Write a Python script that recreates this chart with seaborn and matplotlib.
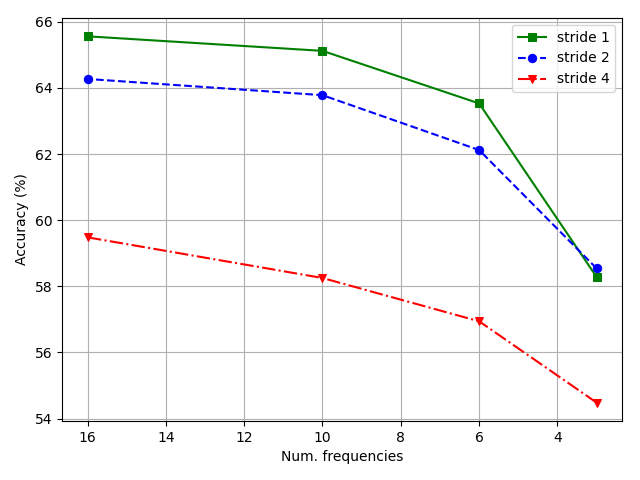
import matplotlib
matplotlib.use("Agg")
import matplotlib.pyplot as plt
import seaborn as sns
import pandas as pd

# values
num_freqs = [16, 10, 6, 3]
stride1 = [65.56, 65.12, 63.53, 58.28]
stride2 = [64.27, 63.78, 62.12, 58.54]
stride4 = [59.48, 58.25, 56.94, 54.48]

series = [
    ("stride 1", stride1, "green", "s", "-"),
    ("stride 2", stride2, "blue", "o", "--"),
    ("stride 4", stride4, "red", "v", "-."),
]

fig, ax = plt.subplots(figsize=(6.4, 4.8), dpi=100)
for label, vals, color, marker, ls in series:
    df = pd.DataFrame({"freq": num_freqs, "acc": vals})
    sns.lineplot(data=df, x="freq", y="acc", ax=ax, color=color, marker=marker,
                 linestyle=ls, label=label, markersize=6, markeredgecolor=color,
                 linewidth=1.5)

ax.invert_xaxis()
ax.set_xticks([16, 14, 12, 10, 8, 6, 4])
ax.set_xlabel("Num. frequencies")
ax.set_ylabel("Accuracy (%)")
ax.grid(True)
ax.legend(loc="upper right")
fig.subplots_adjust(left=0.097, right=0.972, top=0.9625, bottom=0.123)
fig.savefig("out.png")
